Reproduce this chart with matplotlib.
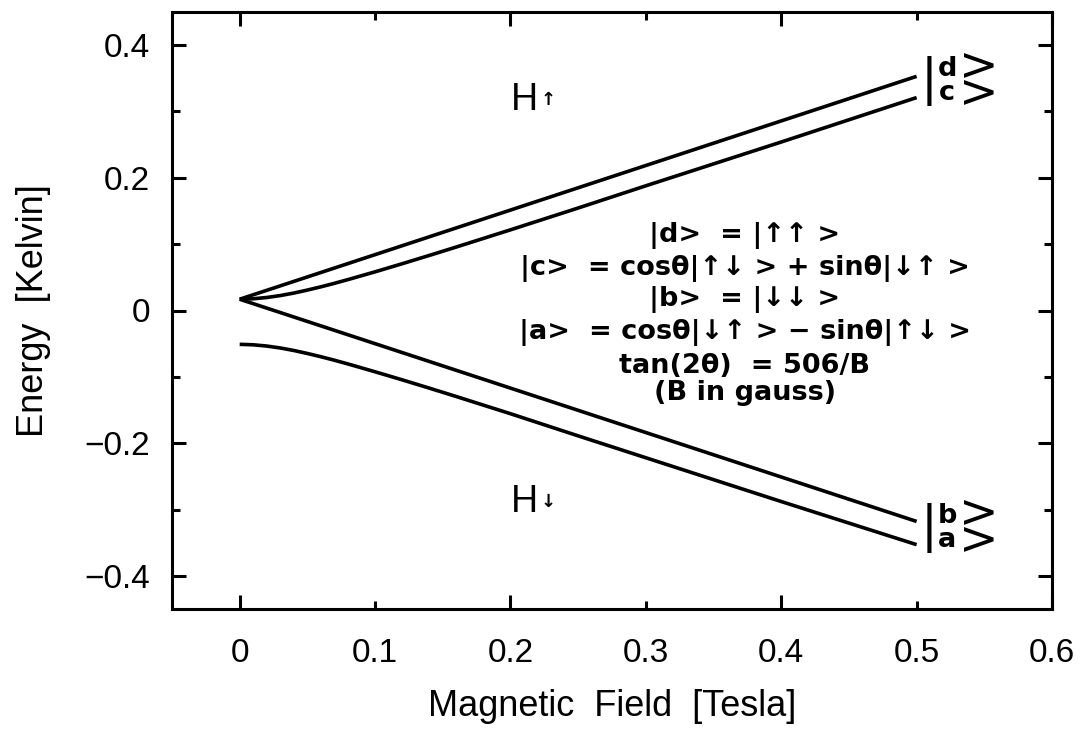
import matplotlib
matplotlib.use("Agg")
import matplotlib.pyplot as plt
from matplotlib.ticker import MultipleLocator, FuncFormatter

# Hyperfine levels of atomic hydrogen vs. field
field = [0, 0.01, 0.02, 0.03, 0.04, 0.05, 0.06, 0.07, 0.08, 0.10, 0.12, 0.14, 0.16,
         0.20, 0.25, 0.30, 0.40, 0.50]
energy_c = [0.0170, 0.0177, 0.0196, 0.0225, 0.0263, 0.0308, 0.0357, 0.0410, 0.0466,
            0.0583, 0.0705, 0.0830, 0.0957, 0.1216, 0.1545, 0.1880, 0.2540, 0.3210]
energy_a = [-0.0510, -0.0517, -0.0536, -0.0565, -0.0603, -0.0648, -0.0697, -0.0750,
            -0.0806, -0.0924, -0.1045, -0.1170, -0.1297, -0.1556, -0.1890, -0.2220,
            -0.2880, -0.3530]

# |d> and |b> are straight lines
field_line = [0, 0.5]
energy_d = [0.017, 0.353]
energy_b = [0.017, -0.318]

state_lines = [
    "|d>  = |↑↑ >",
    "|c>  = cosθ|↑↓ > + sinθ|↓↑ >",
    "|b>  = |↓↓ >",
    "|a>  = cosθ|↓↑ > − sinθ|↑↓ >",
    "tan(2θ)  = 506/B",
    "(B in gauss)",
]
state_y = [0.113, 0.063, 0.016, -0.033, -0.084, -0.124]

AXIS_FONT = "Liberation Sans"
TEXT_FONT = "DejaVu Sans"


def fmt(v, pos):
    return ("%g" % v).replace("-", "\u2212")


def make_plot():
    fig = plt.figure(figsize=(10.88, 7.31), dpi=100)
    ax = fig.add_axes([172 / 1088, 122 / 731, 880 / 1088, 597 / 731])

    for y in (energy_d, energy_b):
        ax.plot(field_line, y, color="black", lw=2.6, solid_capstyle="butt")
    for y in (energy_c, energy_a):
        ax.plot(field, y, color="black", lw=2.6, solid_capstyle="butt",
                solid_joinstyle="round")

    ax.set_xlim(-0.05, 0.6)
    ax.set_ylim(-0.45, 0.45)

    # long ticks every 0.2, short ticks every 0.1, every one labelled on x
    ax.xaxis.set_major_locator(MultipleLocator(0.2))
    ax.xaxis.set_minor_locator(MultipleLocator(0.1))
    ax.xaxis.set_major_formatter(FuncFormatter(fmt))
    ax.xaxis.set_minor_formatter(FuncFormatter(fmt))
    ax.yaxis.set_major_locator(MultipleLocator(0.2))
    ax.yaxis.set_minor_locator(MultipleLocator(0.1))
    ax.yaxis.set_major_formatter(FuncFormatter(fmt))

    ax.tick_params(which="both", direction="in", top=True, right=True, width=2.2)
    ax.tick_params(which="major", length=10)
    ax.tick_params(which="minor", length=5.5)
    ax.tick_params(axis="x", which="both", pad=21, labelsize=24)
    ax.tick_params(axis="y", which="both", pad=16, labelsize=24)
    for lab in ax.get_xticklabels(which="both") + ax.get_yticklabels():
        lab.set_fontfamily(AXIS_FONT)

    for spine in ax.spines.values():
        spine.set_linewidth(2.2)

    ax.set_xlabel("Magnetic  Field  [Tesla]", fontsize=26, family=AXIS_FONT, labelpad=14)
    ax.set_ylabel("Energy  [Kelvin]", fontsize=26, family=AXIS_FONT, labelpad=24)

    # state definitions
    for s, y in zip(state_lines, state_y):
        ax.text(0.373, y, s, ha="center", va="center", fontsize=19.5,
                family=TEXT_FONT, fontweight="bold")

    # H-up / H-down labels
    ax.text(0.210, 0.318, "H", ha="center", va="center", fontsize=27, family=AXIS_FONT)
    ax.text(0.228, 0.318, "↑", ha="center", va="center", fontsize=13,
            family=TEXT_FONT, fontweight="bold")
    ax.text(0.210, -0.288, "H", ha="center", va="center", fontsize=27, family=AXIS_FONT)
    ax.text(0.228, -0.288, "↓", ha="center", va="center", fontsize=13,
            family=TEXT_FONT, fontweight="bold")

    # kets at the line ends: tall bar, two stacked letters, two chevrons
    for pair, yc in (("d\nc", 0.346), ("b\na", -0.328)):
        ax.text(0.509, yc, "|", ha="center", va="center", fontsize=36, family=TEXT_FONT)
        ax.text(0.5225, yc, pair, ha="center", va="center", fontsize=19.5,
                family=TEXT_FONT, fontweight="bold", linespacing=0.88)
        ax.text(0.546, yc, ">\n>", ha="center", va="center", fontsize=34,
                family=TEXT_FONT, linespacing=0.48)

    fig.savefig("out.png", dpi=100)
    plt.close(fig)


if __name__ == "__main__":
    make_plot()
